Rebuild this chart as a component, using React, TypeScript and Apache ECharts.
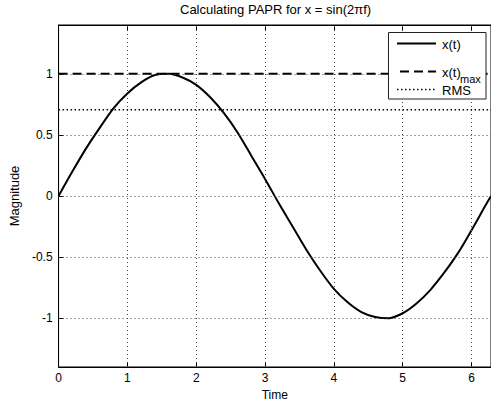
import React, { useEffect, useRef } from "react";
import * as echarts from "echarts";

const timeValues = [0, 0.2, 0.4, 0.6, 0.8, 1.0, 1.2, 1.4, 1.6, 1.8, 2.0, 2.2, 2.4, 2.6, 2.8, 3.0, 3.2, 3.4, 3.6, 3.8, 4.0, 4.2, 4.4, 4.6, 4.8, 5.0, 5.2, 5.4, 5.6, 5.8, 6.0, 6.2, 6.283];
const signalValues = [0, 0.2, 0.39, 0.56, 0.72, 0.84, 0.93, 0.99, 1.0, 0.97, 0.91, 0.81, 0.68, 0.52, 0.33, 0.14, -0.06, -0.25, -0.44, -0.61, -0.76, -0.87, -0.95, -0.99, -1.0, -0.96, -0.88, -0.77, -0.63, -0.47, -0.28, -0.08, 0];
const maxLevel = 1;
const rmsLevel = 0.707;
const xTicks = [0, 1, 2, 3, 4, 5, 6];
const yTicks = [-1, -0.5, 0, 0.5, 1];
const xMin = 0;
const xMax = 6.283;
const yMin = -1.4;
const yMax = 1.4;
const legendNames = ["x(t)", "x(t)", "RMS"];
const legendSub = ["", "max", ""];

const FONT = "'Liberation Sans', Arial, sans-serif";

export default function App() {
  const ref = useRef<HTMLDivElement>(null);
  useEffect(() => {
    if (!ref.current) return;
    const chart = echarts.init(ref.current, null, { renderer: "svg" });
    const gridLineStyle = { color: "#444", width: 1, type: [1, 3] as any };
    const lx1 = 397;
    const lx2 = 436;
    const rowY = [43.5, 71.5, 89.5];
    const dashes: (number[] | null)[] = [null, [9, 5], [1.5, 2.5]];
    const widths = [2, 2, 1.5];
    const legendGraphic: any[] = [
      {
        type: "rect",
        shape: { x: 388.5, y: 32.5, width: 97.5, height: 66.5 },
        style: { fill: "#fff", stroke: "#222", lineWidth: 1 },
        z: 100,
      },
    ];
    rowY.forEach((y, i) => {
      legendGraphic.push({
        type: "line",
        shape: { x1: i === 1 ? 400 : lx1, y1: y, x2: lx2, y2: y },
        style: { stroke: "#000", lineWidth: widths[i], lineDash: dashes[i] || undefined },
        z: 101,
      });
      legendGraphic.push({
        type: "text",
        x: 442,
        y: y + 0.5,
        style: {
          text: legendNames[i],
          fill: "#000",
          font: "13px " + FONT,
          verticalAlign: "middle",
          align: "left",
        },
        z: 101,
      });
      if (legendSub[i]) {
        legendGraphic.push({
          type: "text",
          x: 460,
          y: y + 7,
          style: {
            text: legendSub[i],
            fill: "#000",
            font: "11px " + FONT,
            verticalAlign: "middle",
            align: "left",
          },
          z: 101,
        });
      }
    });
    const option: any = {
      animation: false,
      backgroundColor: "#fff",
      textStyle: { fontFamily: FONT, color: "#000" },
      title: {
        text: "Calculating PAPR for x = sin(2πf)",
        left: 180,
        top: 3,
        padding: 0,
        textStyle: { fontFamily: FONT, fontSize: 13, fontWeight: "normal", color: "#000" },
      },
      grid: {
        left: 58,
        top: 25,
        right: -2,
        bottom: 37,
        show: true,
        borderColor: "#000",
        borderWidth: 1,
        backgroundColor: "#fff",
      },
      graphic: legendGraphic,
      xAxis: [
        {
          type: "value",
          min: xMin,
          max: xMax,
          name: "Time",
          nameLocation: "middle",
          nameGap: 22,
          nameTextStyle: { fontFamily: FONT, fontSize: 12, color: "#000" },
          axisLine: { show: true, onZero: false, lineStyle: { color: "#000", width: 1 } },
          axisTick: { show: true, inside: true, length: 5, customValues: xTicks, lineStyle: { color: "#000" } },
          axisLabel: { customValues: xTicks, margin: 5, fontFamily: FONT, fontSize: 12, color: "#000" },
          splitLine: { show: false },
        },
        {
          type: "value",
          position: "top",
          min: xMin,
          max: xMax,
          axisLine: { show: true, onZero: false, lineStyle: { color: "#000", width: 1 } },
          axisTick: { show: true, inside: true, length: 5, customValues: xTicks, lineStyle: { color: "#000" } },
          axisLabel: { show: false },
          splitLine: { show: false },
        },
      ],
      yAxis: [
        {
          type: "value",
          min: yMin,
          max: yMax,
          name: "Magnitude",
          nameLocation: "middle",
          nameGap: 36,
          nameTextStyle: { fontFamily: FONT, fontSize: 13, color: "#000" },
          axisLine: { show: true, onZero: false, lineStyle: { color: "#000", width: 1 } },
          axisTick: { show: true, inside: true, length: 5, customValues: yTicks, lineStyle: { color: "#000" } },
          axisLabel: { customValues: yTicks, margin: 6, fontFamily: FONT, fontSize: 12, color: "#000" },
          splitLine: { show: false },
        },
      ],
      series: [
        {
          name: "gridlines",
          type: "line",
          data: [[xMin, null]],
          showSymbol: false,
          silent: true,
          z: 1,
          markLine: {
            silent: true,
            symbol: "none",
            label: { show: false },
            lineStyle: gridLineStyle,
            data: [
              ...xTicks.filter((v) => v > 0).map((v) => ({ xAxis: v })),
              ...yTicks.map((v) => ({ yAxis: v })),
            ],
          },
        },
        {
          name: "x(t)",
          type: "line",
          data: timeValues.map((t, i) => [t, signalValues[i]]),
          showSymbol: false,
          symbol: "none",
          smooth: 0.3,
          z: 4,
          lineStyle: { color: "#000", width: 2, type: "solid" },
        },
        {
          name: "x(t)max",
          type: "line",
          data: [[xMin, maxLevel], [xMax, maxLevel]],
          showSymbol: false,
          symbol: "none",
          z: 3,
          lineStyle: { color: "#000", width: 2, type: [9, 5] },
        },
        {
          name: "RMS",
          type: "line",
          data: [[xMin, rmsLevel], [xMax, rmsLevel]],
          showSymbol: false,
          symbol: "none",
          z: 3,
          lineStyle: { color: "#000", width: 1.5, type: [1.5, 2.5] },
        },
      ],
    };
    chart.setOption(option);
    return () => chart.dispose();
  }, []);
  return (
    <div
      ref={ref}
      style={{ position: "fixed", left: 0, top: 0, width: 491, height: 406, background: "#fff" }}
    />
  );
}
